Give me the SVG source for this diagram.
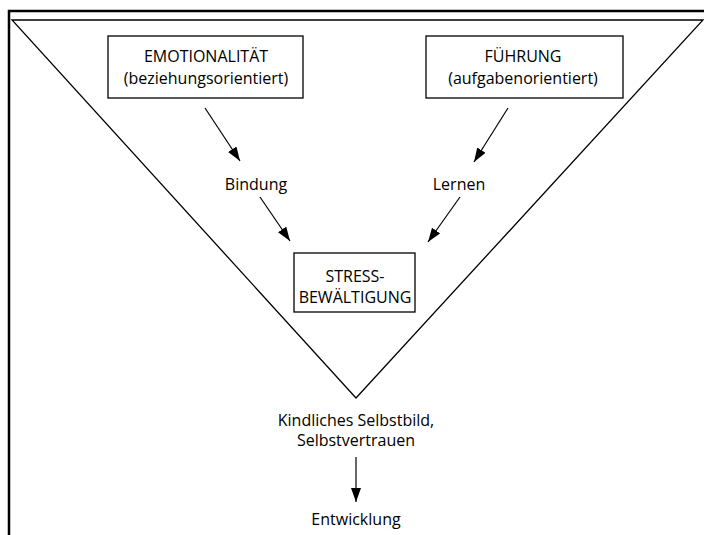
<svg xmlns="http://www.w3.org/2000/svg" width="704" height="535" viewBox="0 0 704 535">
<style>
text{font-family:"Open Sans","Liberation Sans",sans-serif;font-size:16px;fill:#000;text-anchor:middle}
.box{fill:#fff;stroke:#000;stroke-width:1.3}
.con{stroke:#000;stroke-width:1.2;fill:none}
</style>
<defs>
<marker id="ahb" viewBox="0 0 14 10" refX="14" refY="5" markerWidth="14" markerHeight="10" markerUnits="userSpaceOnUse" orient="auto">
<path d="M0,0 L14,5 L0,10 Z" fill="#000"/>
</marker>
</defs>
<g id="frame">
<path d="M9,535 V11 H704" fill="none" stroke="#000" stroke-width="2.5"/>
<path d="M12,20 H703 L356,398 Z" fill="none" stroke="#000" stroke-width="1.3"/>
</g>
<g id="connectors">
<line class="con" x1="205" y1="108" x2="240" y2="161" marker-end="url(#ahb)"/>
<line class="con" x1="260" y1="197" x2="290" y2="241" marker-end="url(#ahb)"/>
<line class="con" x1="508" y1="108" x2="474" y2="162" marker-end="url(#ahb)"/>
<line class="con" x1="460" y1="197" x2="428" y2="242" marker-end="url(#ahb)"/>
<line class="con" x1="356" y1="457" x2="356" y2="502" marker-end="url(#ahb)"/>
</g>
<g id="emotionalitaet">
<rect class="box" x="108" y="36" width="195" height="62"/>
<text x="206" y="62">EMOTIONALITÄT</text>
<text x="206" y="84">(beziehungsorientiert)</text>
</g>
<g id="fuehrung">
<rect class="box" x="426" y="36" width="197" height="62"/>
<text x="523" y="62">FÜHRUNG</text>
<text x="523" y="84">(aufgabenorientiert)</text>
</g>
<g id="bindung"><text x="256" y="190">Bindung</text></g>
<g id="lernen"><text x="459" y="190">Lernen</text></g>
<g id="stress">
<rect class="box" x="294" y="253" width="121" height="59"/>
<text x="355" y="282">STRESS-</text>
<text x="355" y="303">BEWÄLTIGUNG</text>
</g>
<g id="selbstbild">
<text x="356" y="426">Kindliches Selbstbild,</text>
<text x="356" y="446">Selbstvertrauen</text>
</g>
<g id="entwicklung"><text x="356" y="525">Entwicklung</text></g>
</svg>
